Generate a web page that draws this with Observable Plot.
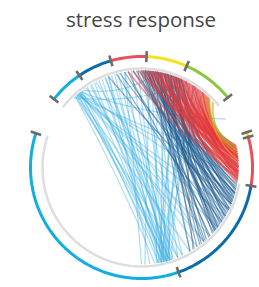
<!DOCTYPE html>
<html><head><meta charset="utf-8">
<script src="https://cdn.jsdelivr.net/npm/d3@7"></script>
<script src="https://cdn.jsdelivr.net/npm/@observablehq/plot@0.6"></script>
<style>html,body{margin:0;padding:0;background:#fff;}#chart{width:259px;height:287px;}</style>
</head><body><div id="chart"></div>
<script>
// ---- data (angles in degrees, clockwise from top) ----
const titleText = "stress response";
const segStart = [160.5, 308, 326, 344, 2.6, 24, 71.5, 74, 99.5];
const segEnd   = [288, 326, 344, 362.6, 24, 51, 74, 99.5, 160.5];
const segColor = ["#12aee2","#12aee2","#0c6ca8","#e8505b","#f6e11d","#8cc63f","#f6e11d","#e8505b","#0c6ca8"];
const tickAngles = [288, 308, 326, 344, 2.6, 24, 51, 71.5, 74, 99.5, 160.5];
const innerStart = [308, 100];
const innerEnd   = [411, 288];

const lightFrom = [318,319,320,321,322,317,318,320,321,319,322,320,318,321,316,323,319,320,317,
                   326,329,331,334,336,338,340,342,344,346,348,
                   12,15,18,21,24,27,30,33,36,39,
                   350,354,358,2,6,10,
                   325,328,332,338,0,10,340,350,5,14];
const lightTo   = [165,168,163,170,166,172,150,140,128,115,105,95,85,60,30,10,120,135,158,
                   166,163,168,165,170,162,167,164,169,165,161,
                   165,168,163,167,170,164,166,162,169,165,
                   166,164,168,163,167,171,
                   145,155,140,158,155,158,175,180,178,150];
const grayFrom = [32];
const grayTo   = [148];
const darkFrom = [0,1,2,3,4,5,6,7,8,9,10,11,12,13,14,15,16,17,18,19,20,21,22,23,24,25,
                  2,5,8,11,14,17,20,23, 1,4,7,10,13,16,19,22,
                  3,6,9,12,15,18,21,24,
                  355,357,359,352,350,347,345,340];
const darkTo   = [118,105,132,110,140,122,102,128,115,136,107,124,145,112,130,101,120,138,109,126,104,133,115,142,108,121,
                  100,113,127,150,106,119,131,110, 135,103,117,129,111,143,123,106,
                  125,139,111,131,116,147,128,103,
                  105,112,120,130,116,108,124,112];
const redFrom = [0,2,4,5,6,7,8,9,10,11,12,13,14,15,16,17,18,19,20,21,22,23,24,25,26,27,28,29,30,31,32,33,34,35,36,37,38,39,40,41,42,43,44,
                 3,9,15,21,27,33,39,355,352,358];
const redTo   = [85,93,80,88,90,95,83,80,92,86,84,98,99,78,90,82,86,96,82,94,93,77,81,89,97,92,84,91,80,86,94,79,87,82,88,95,86,78,90,81,84,79,82,
                 97,89,83,77,92,80,85,93,96,80];
const warmFrom  = [38,42,45,47,44,48];
const warmTo    = [82,80,86,78,77,80];
const warmColor = ["#f39a2e","#f39a2e","#f5b335","#f39a2e","#8cc63f","#8cc63f"];

// ---- geometry ----
const W = 259, H = 287, cx = 141, cy = 167;
const R_RING = 111, R_INNER = 99, R_CHORD = 97;
const rad = a => a * Math.PI / 180;
const px = (a, r) => cx + r * Math.sin(rad(a));
const py = (a, r) => cy - r * Math.cos(rad(a));

function arcPoints(starts, ends, colors, r) {
  const pts = [];
  starts.forEach((s, i) => {
    const e = ends[i];
    const n = Math.max(2, Math.ceil(e - s));
    for (let k = 0; k <= n; k++) {
      const a = s + (e - s) * k / n;
      pts.push({seg: i, x: px(a, r), y: py(a, r), color: colors ? colors[i] : "#ddd"});
    }
  });
  return pts;
}
const chords = (from, to, color) => from.map((f, i) => ({
  x1: px(f, R_CHORD), y1: py(f, R_CHORD), x2: px(to[i], R_CHORD), y2: py(to[i], R_CHORD),
  color: Array.isArray(color) ? color[i] : color
}));

// curve bowing chords slightly toward the centre
function chordCurve(context) {
  let pts = [];
  return {
    areaStart() {}, areaEnd() {},
    lineStart() { pts = []; },
    point(x, y) { pts.push([x, y]); },
    lineEnd() {
      const [a, b] = pts[0], [c, d] = pts[pts.length - 1];
      const k = 0.18, mx = (a + c) / 2, my = (b + d) / 2;
      context.moveTo(a, b);
      context.quadraticCurveTo(mx + (cx - mx) * k, my + (cy - my) * k, c, d);
    }
  };
}

const ringPts = arcPoints(segStart, segEnd, segColor, R_RING);
const innerPts = arcPoints(innerStart, innerEnd, null, R_INNER);
const ticks = tickAngles.map(a => ({x1: px(a, 105.5), y1: py(a, 105.5), x2: px(a, 116.5), y2: py(a, 116.5)}));

const linkOpts = (op, sw) => ({x1: "x1", y1: "y1", x2: "x2", y2: "y2", stroke: "color", strokeOpacity: op, strokeWidth: sw, curve: chordCurve});

const chart = Plot.plot({
  width: W, height: H, margin: 0,
  x: {domain: [0, W], range: [0, W], axis: null},
  y: {domain: [0, H], range: [0, H], axis: null},
  color: {type: "identity"},
  style: {background: "#fff", fontFamily: "'Open Sans', sans-serif"},
  marks: [
    Plot.line(innerPts, {x: "x", y: "y", z: "seg", stroke: "#dedede", strokeWidth: 2.5}),
    Plot.link(chords(lightFrom, lightTo, "#3aaee3"), linkOpts(0.4, 1.3)),
    Plot.link(chords(grayFrom, grayTo, "#8a8a8a"), linkOpts(0.7, 1)),
    Plot.link(chords(darkFrom, darkTo, "#1b5a8d"), linkOpts(0.5, 1.2)),
    Plot.link(chords(redFrom, redTo, "#e2383a"), linkOpts(0.5, 1.8)),
    Plot.link(chords(warmFrom, warmTo, warmColor), linkOpts(0.55, 1.4)),
    Plot.line(ringPts, {x: "x", y: "y", z: "seg", stroke: "color", strokeWidth: 3}),
    Plot.link(ticks, {x1: "x1", y1: "y1", x2: "x2", y2: "y2", stroke: "#6b6b6b", strokeWidth: 2.6}),
    Plot.text([{x: 140.5, y: 19.5, t: titleText}], {x: "x", y: "y", text: "t", fontSize: 20.5, fill: "#444", textAnchor: "middle"})
  ]
});
document.getElementById("chart").appendChild(chart);
</script></body></html>
